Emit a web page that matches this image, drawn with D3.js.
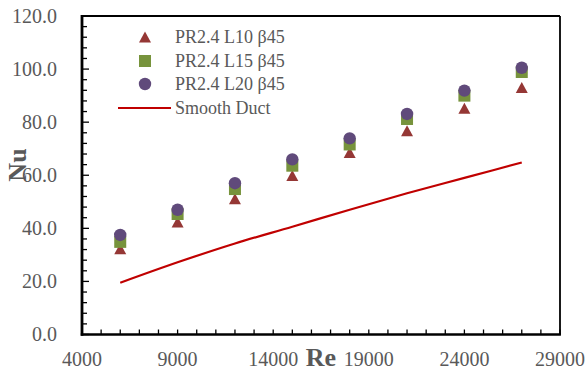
<!DOCTYPE html>
<html>
<head>
<meta charset="utf-8">
<script src="https://cdn.jsdelivr.net/npm/d3@7"></script>
<style>
  html, body { margin: 0; padding: 0; background: #fff; }
  svg { display: block; }
  svg text { font-family: "Liberation Serif", "Times New Roman", "DejaVu Serif", serif; }
</style>
</head>
<body>
<svg id="chart" width="587" height="371"></svg>
<script>
const reValues = [6000, 9000, 12000, 15000, 18000, 21000, 24000, 27000];
const nuL10 = [32.3, 42.4, 51.1, 59.9, 68.6, 76.8, 85.2, 93.1];
const nuL15 = [34.9, 45.4, 54.8, 63.6, 71.6, 81.2, 90.0, 98.9];
const nuL20 = [37.5, 47.0, 57.0, 66.0, 73.9, 83.1, 91.9, 100.5];
const nuSmooth = [19.5, 27.2, 34.3, 40.6, 47.0, 53.2, 59.0, 64.8];
const xTicks = [4000, 9000, 14000, 19000, 24000, 29000];
const yTicks = [0, 20, 40, 60, 80, 100, 120];
const legendLabels = ["PR2.4 L10 β45", "PR2.4 L15 β45", "PR2.4 L20 β45", "Smooth Duct"];

const FONT = "Liberation Serif, Times New Roman, serif";
const svg = d3.select("#chart");
const L = 82, R = 560, T = 16, B = 334.5;
const x = d3.scaleLinear().domain([4000, 29000]).range([L, R]);
const y = d3.scaleLinear().domain([0, 120]).range([B, T]);
const grey = "#595959";

// Minor ticks (inside)
const xMinor = d3.range(4000, 29001, 1000);
const yMinor = d3.range(0, 120.01, 4);
svg.append("g").selectAll("line").data(xMinor).join("line")
  .attr("x1", d => x(d)).attr("x2", d => x(d))
  .attr("y1", B).attr("y2", B - 5)
  .attr("stroke", "#000").attr("stroke-width", 1.3);
svg.append("g").selectAll("line").data(yMinor).join("line")
  .attr("y1", d => y(d)).attr("y2", d => y(d))
  .attr("x1", L).attr("x2", d => (d % 20 === 0) ? L + 7 : L + 5)
  .attr("stroke", "#000").attr("stroke-width", 1.3);

// Frame
svg.append("line").attr("x1", L).attr("x2", R).attr("y1", T).attr("y2", T).attr("stroke", "#000").attr("stroke-width", 1.8);
svg.append("line").attr("x1", R).attr("x2", R).attr("y1", T).attr("y2", B).attr("stroke", "#000").attr("stroke-width", 1.8);
svg.append("line").attr("x1", L).attr("x2", L).attr("y1", T - 0.9).attr("y2", B + 1.2).attr("stroke", "#000").attr("stroke-width", 2.8);
svg.append("line").attr("x1", L - 1.2).attr("x2", R + 0.9).attr("y1", B).attr("y2", B).attr("stroke", "#000").attr("stroke-width", 2.6);

// Tick labels
svg.append("g").selectAll("text").data(yTicks).join("text")
  .attr("x", 57).attr("y", d => y(d)).attr("dy", "0.34em")
  .attr("text-anchor", "end").attr("font-size", 20).attr("font-family", FONT).attr("fill", grey)
  .text(d => d3.format(".1f")(d));
svg.append("g").selectAll("text").data(xTicks).join("text")
  .attr("x", d => x(d)).attr("y", 366)
  .attr("text-anchor", "middle").attr("font-size", 20).attr("font-family", FONT).attr("fill", grey)
  .text(d => d);

// Axis titles
svg.append("text").attr("x", 321).attr("y", 366).attr("text-anchor", "middle")
  .attr("font-size", 26).attr("font-weight", "bold").attr("font-family", FONT).attr("fill", grey).text("Re");
svg.append("text").attr("transform", "translate(26,165) rotate(-90)")
  .attr("text-anchor", "middle").attr("font-size", 26).attr("font-weight", "bold").attr("font-family", FONT).attr("fill", grey).text("Nu");

// Smooth duct line
const line = d3.line().x((d, i) => x(reValues[i])).y(d => y(d)).curve(d3.curveMonotoneX);
svg.append("path").attr("d", line(nuSmooth)).attr("fill", "none")
  .attr("stroke", "#C00000").attr("stroke-width", 2.2);

// Markers
const triPath = (w, h) => `M0,${-h/2}L${w/2},${h/2}L${-w/2},${h/2}Z`;
const cTri = "#953735", cSq = "#77933C", cCirc = "#604A7B";
svg.append("g").selectAll("path").data(nuL10).join("path")
  .attr("d", triPath(12, 11))
  .attr("transform", (d, i) => `translate(${x(reValues[i])},${y(d)})`)
  .attr("fill", cTri);
svg.append("g").selectAll("rect").data(nuL15).join("rect")
  .attr("x", (d, i) => x(reValues[i]) - 6).attr("y", d => y(d) - 6)
  .attr("width", 12).attr("height", 12).attr("fill", cSq);
svg.append("g").selectAll("circle").data(nuL20).join("circle")
  .attr("cx", (d, i) => x(reValues[i])).attr("cy", d => y(d))
  .attr("r", 6.2).attr("fill", cCirc);

// Legend
const lg = svg.append("g");
const rowY = [37, 61, 84, 108];
const symX = 145, textX = 175;
lg.append("path").attr("d", triPath(12, 11)).attr("transform", `translate(${symX},${rowY[0]})`).attr("fill", cTri);
lg.append("rect").attr("x", symX - 6).attr("y", rowY[1] - 6).attr("width", 12).attr("height", 12).attr("fill", cSq);
lg.append("circle").attr("cx", symX).attr("cy", rowY[2]).attr("r", 6.2).attr("fill", cCirc);
lg.append("line").attr("x1", 118).attr("x2", 171).attr("y1", rowY[3]).attr("y2", rowY[3])
  .attr("stroke", "#C00000").attr("stroke-width", 2.2);
lg.selectAll("text").data(legendLabels).join("text")
  .attr("x", textX).attr("y", (d, i) => rowY[i]).attr("dy", "0.34em")
  .attr("font-size", 18).attr("font-family", FONT).attr("fill", grey).text(d => d);
</script>
</body>
</html>
